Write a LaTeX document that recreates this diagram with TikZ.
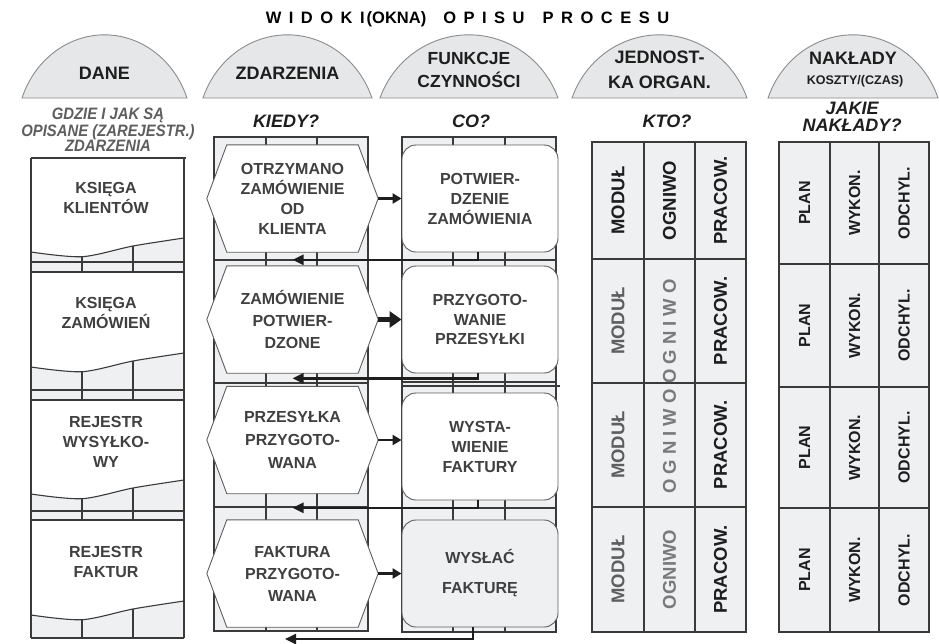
\documentclass[tikz,border=0pt]{standalone}
\usepackage{fontspec}
\setmainfont{Liberation Sans}
\newfontfamily\narrowsans[FakeStretch=0.9]{Liberation Sans}
\usetikzlibrary{arrows.meta,calc}
\pgfdeclarelayer{gridlayer}
\pgfdeclarelayer{shapelayer}
\pgfsetlayers{gridlayer,shapelayer,main}
\definecolor{gridfill}{HTML}{EFF0F2}
\definecolor{gridline}{HTML}{3A3A3A}
\definecolor{domefill}{HTML}{E6E7E8}
\definecolor{domeline}{HTML}{8C8C8C}
\definecolor{inkdark}{HTML}{1E1E1E}
\definecolor{inkmid}{HTML}{404040}
\definecolor{inklight}{HTML}{5E5E5E}
\definecolor{inkpale}{HTML}{7A7A7A}
\definecolor{shapeline}{HTML}{5E5E5E}
\newcommand\fsz[2]{\fontsize{#1}{#2}\selectfont\bfseries}
\newcommand\ltrgap{\hspace{7.5pt}}

\begin{document}
\begin{tikzpicture}[x=1pt,y=-1pt,
  dome/.style={fill=domefill,draw=domeline,line width=0.9pt},
  domelabel/.style={align=center,inner sep=0pt,text=inkdark},
  question/.style={align=center,inner sep=0pt,text=inkdark,font=\fsz{18}{17}\itshape},
  cell/.style={draw=gridline,line width=1.1pt},
  hexbox/.style={minimum width=171pt,minimum height=107pt,inner sep=0pt,align=center,text=inkmid},
  hexline/.style={draw=shapeline,fill=white,line width=0.9pt},
  funbox/.style={draw=shapeline,fill=white,rounded corners=14pt,minimum width=156pt,minimum height=107pt,inner sep=0pt,align=center,text=inkmid,line width=0.9pt},
  datatext/.style={align=center,inner sep=0pt,text=inkmid,font=\fsz{16}{20}},
  vlabel/.style={rotate=90,inner sep=0pt,font=\fsz{18.5}{18.5}},
  cost/.style={rotate=90,inner sep=0pt,font=\fsz{16}{16},text=inkdark},
  fwd/.style={draw=inkdark,line width=2.6pt,-{Triangle[length=9pt,width=10pt]}},
  back/.style={draw=inkdark,line width=2.4pt,-{Triangle[length=11pt,width=10pt]}},
]
\useasboundingbox (0,0) rectangle (939,643);

% ---------- grids ----------
\begin{pgfonlayer}{gridlayer}
\fill[white] (0,0) rectangle (939,643);
% data column: document cells with wavy lower edge
\foreach \T/\r/\B/\C in {158/238/262/272, 272/353/390/400, 400/480/511/520, 520/601/638/638}{
  \fill[gridfill] plot[smooth] coordinates {(31,\r+14) (82,\r+18.7) (133,\r+8) (184,\r)} -- (184,\C) -- (31,\C) -- cycle;
  \draw[cell] plot[smooth] coordinates {(31,\r+14) (82,\r+18.7) (133,\r+8) (184,\r)};
  \draw[cell] (31,\B) -- (184,\B) (31,\C) -- (184,\C);
  \draw[cell] (82,\r+18.7) -- (82,\C) (133,\r+8) -- (133,\C);
}
\draw[cell] (31,158) -- (186,158) (31,158) -- (31,638) (184,158) -- (184,638);
% events column
\fill[gridfill] (214,137) rectangle (368,631);
\draw[cell] (214,137) rectangle (368,631);
\foreach \y in {260,383,507} \draw[cell] (214,\y) -- (368,\y);
\foreach \x in {266,317} \draw[cell] (\x,137) -- (\x,631);
% functions column
\fill[gridfill] (402,137) rectangle (556,632);
\draw[cell] (402,137) rectangle (556,632);
\foreach \y in {260,382,508} \draw[cell] (402,\y) -- (556,\y);
\draw[cell] (402,386) -- (560,386);
\foreach \x in {453,505} \draw[cell] (\x,137) -- (\x,632);
% organisation column
\fill[gridfill] (592,142) rectangle (746,632);
\draw[cell] (592,142) rectangle (746,632);
\foreach \y in {259,383,507} \draw[cell] (592,\y) -- (746,\y);
\foreach \x in {644,695} \draw[cell] (\x,142) -- (\x,632);
% cost column
\fill[gridfill] (779,142) rectangle (929,632);
\draw[cell] (779,142) rectangle (929,632);
\foreach \y in {264,387,508} \draw[cell] (779,\y) -- (929,\y);
\foreach \x in {830,879} \draw[cell] (\x,142) -- (\x,632);
\end{pgfonlayer}

% ---------- title ----------
\node[font=\fsz{16.5}{16.5},text=black,inner sep=0pt] (title) at (467.5,19)
  {W\ltrgap I\ltrgap D\ltrgap O\ltrgap K\ltrgap I\hspace{2pt}(OKNA)\hspace{17pt}O\ltrgap P\ltrgap I\ltrgap S\ltrgap U\hspace{18pt}P\ltrgap R\ltrgap O\ltrgap C\ltrgap E\ltrgap S\ltrgap U};

% ---------- header domes ----------
\draw[dome] (22,98) arc[start angle=160,end angle=20,x radius=87.8pt,y radius=96pt] -- cycle;
\node[domelabel,font=\fsz{18}{18}] (hdane) at (104.5,73) {DANE};
\draw[dome] (203,98) arc[start angle=160,end angle=20,x radius=89.9pt,y radius=96pt] -- cycle;
\node[domelabel,font=\fsz{18}{18}] (hzd) at (287.5,73) {ZDARZENIA};
\draw[dome] (380,98) arc[start angle=160,end angle=20,x radius=94.7pt,y radius=96pt] -- cycle;
\node[domelabel,font=\fsz{17.5}{23}] (hfun) at (469,69.5) {FUNKCJE\\CZYNNOŚCI};
\draw[dome] (572,98) arc[start angle=160,end angle=20,x radius=93.1pt,y radius=96pt] -- cycle;
\node[domelabel,font=\fsz{18}{25}] (hjed) at (659.5,69.5) {JEDNOST-\\KA ORGAN.};
\draw[dome] (768,98) arc[start angle=160,end angle=20,x radius=90.5pt,y radius=96pt] -- cycle;
\node[domelabel,font=\fsz{18}{18}] (hnak) at (853,58) {NAKŁADY};
\node[domelabel,font=\fsz{12.5}{12.5}] (hkos) at (855,81) {KOSZTY/(CZAS)};

% ---------- questions ----------
\node[align=center,inner sep=0pt,text=inklight,font=\narrowsans\fsz{16.5}{14.5}\itshape] (qdane) at (108,130)
  {GDZIE I JAK SĄ\\OPISANE (ZAREJESTR.)\\ZDARZENIA};
\node[question] (qkiedy) at (286,121) {KIEDY?};
\node[question] (qco) at (471,121) {CO?};
\node[question] (qkto) at (667,121) {KTO?};
\node[question] (qjakie) at (852,117) {JAKIE\\NAKŁADY?};

% ---------- data stores ----------
\node[datatext] (d1) at (106,198) {KSIĘGA\\KLIENTÓW};
\node[datatext] (d2) at (106,313) {KSIĘGA\\ZAMÓWIEŃ};
\node[datatext] (d3) at (106,442) {REJESTR\\WYSYŁKO-\\WY};
\node[datatext] (d4) at (106,562) {REJESTR\\FAKTUR};

% ---------- events ----------
\node[hexbox,font=\fsz{16}{20}] (e1) at (292.5,198.5) {OTRZYMANO\\ZAMÓWIENIE\\OD\\KLIENTA};
\node[hexbox,font=\fsz{16}{22}] (e2) at (292.5,319.5) {ZAMÓWIENIE\\POTWIER-\\DZONE};
\node[hexbox,font=\fsz{16}{23}] (e3) at (292.5,440) {PRZESYŁKA\\PRZYGOTO-\\WANA};
\node[hexbox,font=\fsz{16}{22}] (e4) at (292.5,573.5) {FAKTURA\\PRZYGOTO-\\WANA};
\begin{pgfonlayer}{shapelayer}
\foreach \n in {e1,e2,e3,e4}
  \draw[hexline] (\n.west) -- ([xshift=20pt]\n.north west) -- ([xshift=-20pt]\n.north east)
    -- (\n.east) -- ([xshift=-20pt]\n.south east) -- ([xshift=20pt]\n.south west) -- cycle;
\end{pgfonlayer}

% ---------- functions ----------
\node[funbox,font=\fsz{16}{20}] (f1) at (480,198.5) {POTWIER-\\DZENIE\\ZAMÓWIENIA};
\node[funbox,font=\fsz{16}{19.5}] (f2) at (480,319.5) {PRZYGOTO-\\WANIE\\PRZESYŁKI};
\node[funbox,font=\fsz{16}{20}] (f3) at (480,446.5) {WYSTA-\\WIENIE\\FAKTURY};
\node[funbox,font=\fsz{16}{30},fill=gridfill] (f4) at (480,573.5) {WYSŁAĆ\\FAKTURĘ};

% ---------- flow ----------
\draw[fwd] (e1.east) -- (e1.east -| f1.west);
\draw[fwd,line width=4.5pt,-{Triangle[length=12pt,width=16pt]}] (e2.east) -- (e2.east -| f2.west);
\draw[fwd] (e3.east) -- (e3.east -| f3.west);
\draw[fwd] (e4.east) -- (e4.east -| f4.west);
\draw[back] ([xshift=-2pt]f1.south) |- ($(e2.north)+(0,-6)$);
\draw[back] ([xshift=-2pt]f2.south) |- ($(e3.north)+(0,-8)$);
\draw[back] ([xshift=-2pt]f3.south) |- ($(e4.north)+(0,-12)$);
\coordinate (flowend) at (285,639);
\draw[back] ([xshift=-7pt]f4.south) |- (flowend);

% ---------- organisation units ----------
\node[vlabel,text=inkdark] (m1) at (618,200.5) {MODUŁ};
\node[vlabel,text=inkdark] (o1) at (669.5,200.5) {OGNIWO};
\node[vlabel,text=inkdark] (p1) at (720.5,200.5) {PRACOW.};
\node[vlabel,text=inklight] (m2) at (618,321) {MODUŁ};
\node[vlabel,text=inkdark] (p2) at (720.5,321) {PRACOW.};
\node[vlabel,text=inkpale] (o23) at (669.5,386.5) {O G N I W O O G N I W O};
\node[vlabel,text=inklight] (m3) at (618,445) {MODUŁ};
\node[vlabel,text=inkdark] (p3) at (720.5,445) {PRACOW.};
\node[vlabel,text=inklight] (m4) at (618,569.5) {MODUŁ};
\node[vlabel,text=inkpale] (o4) at (669.5,569.5) {OGNIWO};
\node[vlabel,text=inkdark] (p4) at (720.5,569.5) {PRACOW.};

% ---------- costs ----------
\foreach \y [count=\i] in {203,325.5,447.5,570}{
  \node[cost] (plan\i) at (804.5,\y) {PLAN};
  \node[cost] (wyk\i) at (854.5,\y) {WYKON.};
  \node[cost] (odch\i) at (904,\y) {ODCHYL.};
}
\end{tikzpicture}
\end{document}
